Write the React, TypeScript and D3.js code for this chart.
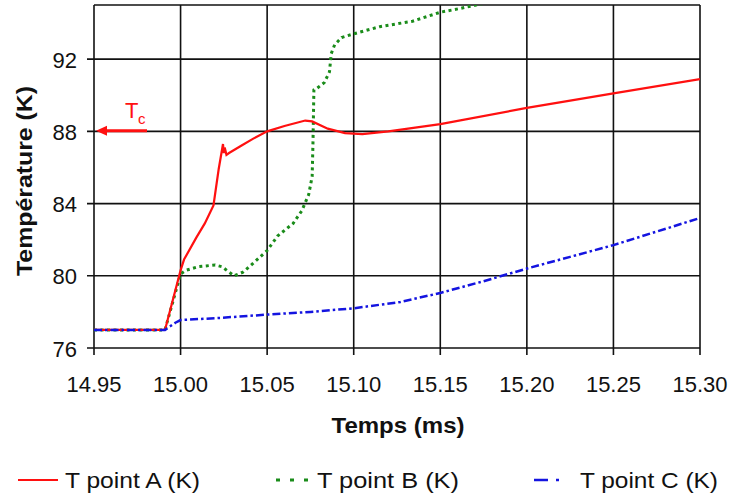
import React from "react";
import * as d3 from "d3";

const xTicks = [14.95, 15.0, 15.05, 15.1, 15.15, 15.2, 15.25, 15.3];
const yTicks = [76, 80, 84, 88, 92];
const seriesNames = ["T point A (K)", "T point B (K)", "T point C (K)"];

const timeA = [14.95, 14.991, 15.0, 15.002, 15.009, 15.014, 15.019, 15.022, 15.0245, 15.025, 15.0255, 15.0265, 15.028, 15.035, 15.042, 15.05, 15.06, 15.072, 15.076, 15.085, 15.095, 15.105, 15.12, 15.15, 15.2, 15.25, 15.3];
const tempA = [77, 77, 80.3, 80.9, 82.1, 82.9, 83.9, 85.9, 87.3, 86.8, 87.1, 86.7, 86.8, 87.2, 87.6, 88.0, 88.3, 88.6, 88.55, 88.15, 87.9, 87.85, 88.0, 88.4, 89.3, 90.1, 90.9];

const timeB = [14.95, 14.991, 15.0, 15.003, 15.01, 15.02, 15.024, 15.028, 15.031, 15.036, 15.042, 15.05, 15.056, 15.065, 15.07, 15.074, 15.076, 15.0765, 15.077, 15.079, 15.083, 15.086, 15.087, 15.089, 15.093, 15.1, 15.115, 15.134, 15.15, 15.161, 15.173, 15.18];
const tempB = [77, 77, 80.1, 80.3, 80.5, 80.6, 80.5, 80.2, 80.0, 80.2, 80.7, 81.4, 82.2, 82.9, 83.6, 84.5, 85.5, 87.5, 90.3, 90.4, 90.7, 91.3, 92.3, 92.8, 93.2, 93.4, 93.8, 94.1, 94.6, 94.8, 95.05, 95.2];

const timeC = [14.95, 14.991, 14.994, 14.997, 15.0, 15.02, 15.05, 15.075, 15.1, 15.127, 15.15, 15.175, 15.2, 15.225, 15.25, 15.275, 15.3];
const tempC = [77, 77, 77.2, 77.4, 77.55, 77.65, 77.85, 78.0, 78.2, 78.55, 79.05, 79.7, 80.4, 81.05, 81.7, 82.45, 83.2];

const FONT = "'Liberation Sans', Arial, Helvetica, sans-serif";

export default function App() {
  const left = 94, right = 700, top = 5, bottom = 348;
  const x = d3.scaleLinear().domain([14.95, 15.3]).range([left, right]);
  const y = d3.scaleLinear().domain([76, 95]).range([bottom, top]);
  const line = d3
    .line<[number, number]>()
    .x((d) => x(d[0]))
    .y((d) => y(d[1]));
  const pA = line(timeA.map((t, i) => [t, tempA[i]]));
  const pB = line(timeB.map((t, i) => [t, tempB[i]]));
  const pC = line(timeC.map((t, i) => [t, tempC[i]]));

  const red = "#ff1010";
  const green = "#1a8c1a";
  const blue = "#1414e0";

  return (
    <svg
      width={731}
      height={493}
      style={{ position: "absolute", left: 0, top: 0, background: "#fff" }}
      fontFamily={FONT}
    >
      <defs>
        <clipPath id="plotclip">
          <rect x={left} y={top} width={right - left} height={bottom - top} />
        </clipPath>
      </defs>
      {/* grid */}
      {xTicks.map((t) => (
        <line key={"gx" + t} x1={x(t)} x2={x(t)} y1={top} y2={bottom + 7} stroke="#111" strokeWidth={1.6} />
      ))}
      {yTicks.map((t) => (
        <line key={"gy" + t} x1={left - 7} x2={right} y1={y(t)} y2={y(t)} stroke="#111" strokeWidth={1.6} />
      ))}
      <line x1={left} x2={right} y1={top} y2={top} stroke="#111" strokeWidth={1.6} />
      {/* tick labels */}
      {yTicks.map((t) => (
        <text key={"ly" + t} x={77} y={y(t) + 8.5} textAnchor="end" fontSize={22} fill="#111">
          {t}
        </text>
      ))}
      {xTicks.map((t) => (
        <text key={"lx" + t} x={x(t)} y={392} textAnchor="middle" fontSize={22} fill="#111">
          {t.toFixed(2)}
        </text>
      ))}
      {/* axis titles */}
      <text x={398} y={433} textAnchor="middle" fontSize={22} fontWeight="bold" fill="#111" textLength={133} lengthAdjust="spacingAndGlyphs">
        Temps (ms)
      </text>
      <text
        transform={`translate(32,181) rotate(-90)`}
        textAnchor="middle"
        fontSize={22}
        fontWeight="bold"
        fill="#111"
        textLength={190}
        lengthAdjust="spacingAndGlyphs"
      >
        Température (K)
      </text>
      {/* series */}
      <g clipPath="url(#plotclip)" fill="none">
        <path d={pB ?? ""} stroke={green} strokeWidth={3} strokeDasharray="3,3.5" />
        <path d={pA ?? ""} stroke={red} strokeWidth={2.2} />
        <path d={pC ?? ""} stroke={blue} strokeWidth={2.5} strokeDasharray="8,3,2.5,3" />
      </g>
      {/* Tc annotation */}
      <line x1={103} x2={147} y1={y(88) - 0.5} y2={y(88) - 0.5} stroke={red} strokeWidth={3} />
      <path d={`M${left + 2},${y(88) - 0.5} L${left + 13},${y(88) - 5.5} L${left + 13},${y(88) + 4.5} Z`} fill={red} />
      <text x={125} y={118} fontSize={22} fill={red}>
        T
      </text>
      <text x={138} y={124} fontSize={15} fill={red}>
        c
      </text>
      {/* legend */}
      <line x1={18} x2={58} y1={480} y2={480} stroke={red} strokeWidth={2.2} />
      <text x={65} y={488} fontSize={22} fill="#111" textLength={135} lengthAdjust="spacingAndGlyphs">
        {seriesNames[0]}
      </text>
      <line x1={276} x2={308} y1={480} y2={480} stroke={green} strokeWidth={3} strokeDasharray="4,10" />
      <text x={317} y={488} fontSize={22} fill="#111" textLength={142} lengthAdjust="spacingAndGlyphs">
        {seriesNames[1]}
      </text>
      <line x1={534} x2={571} y1={480} y2={480} stroke={blue} strokeWidth={2.5} strokeDasharray="14,8,3,12" />
      <text x={580} y={488} fontSize={22} fill="#111" textLength={138} lengthAdjust="spacingAndGlyphs">
        {seriesNames[2]}
      </text>
    </svg>
  );
}
